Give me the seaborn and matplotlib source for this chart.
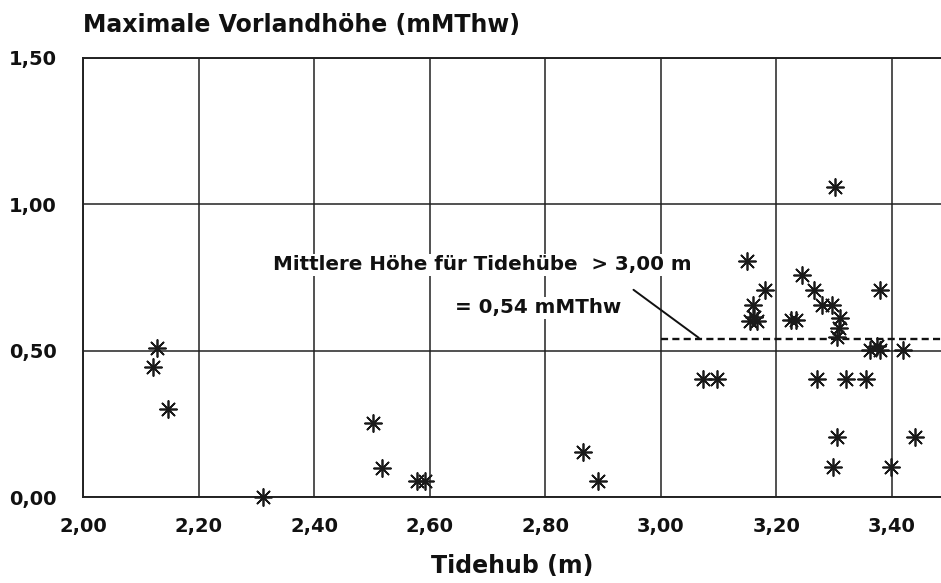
import matplotlib
matplotlib.use("Agg")
import matplotlib.pyplot as plt
import numpy as np
import pandas as pd
import seaborn as sns

# Tidehub (m) und maximale Vorlandhöhe (mMThw)
tidehub = [
    2.128, 2.122, 2.148, 2.311,
    2.502, 2.517, 2.578, 2.592, 2.866, 2.891,
    3.074, 3.097, 3.150, 3.181, 3.160, 3.155, 3.161, 3.166,
    3.225, 3.235, 3.244, 3.265, 3.279, 3.296, 3.311, 3.308, 3.305,
    3.302, 3.380, 3.363, 3.380, 3.420, 3.375,
    3.270, 3.321, 3.355, 3.306, 3.440, 3.299, 3.399,
]
vorlandhoehe = [
    0.508, 0.445, 0.300, 0.000,
    0.252, 0.100, 0.055, 0.055, 0.155, 0.055,
    0.402, 0.402, 0.808, 0.707, 0.656, 0.600, 0.615, 0.600,
    0.605, 0.605, 0.759, 0.707, 0.656, 0.656, 0.611, 0.577, 0.548,
    1.060, 0.707, 0.502, 0.502, 0.502, 0.515,
    0.402, 0.402, 0.402, 0.204, 0.204, 0.104, 0.104,
]
mittel_ab = 3.00
mittel_hoehe = 0.54

x_ticks = [2.0, 2.2, 2.4, 2.6, 2.8, 3.0, 3.2, 3.4]
y_ticks = [0.0, 0.5, 1.0, 1.5]

df = pd.DataFrame({"tidehub": tidehub, "hoehe": vorlandhoehe})

sns.set_theme(style="white")
plt.rcParams["font.family"] = ["DejaVu Sans"]

fig = plt.figure(figsize=(9.41, 5.83), dpi=100)
ax = fig.add_axes([83 / 941, 1 - 497 / 583, 1 - 83 / 941 + 0.001, (497 - 58) / 583])

sns.scatterplot(data=df, x="tidehub", y="hoehe", ax=ax, marker=(8, 2, 0),
                s=150, color="#1a1a1a", linewidth=1.25, zorder=3, clip_on=False)

# Mittelwert für Tidehübe > 3,00 m
ax.plot([mittel_ab, 3.49], [mittel_hoehe, mittel_hoehe], color="#111111",
        linestyle=(0, (3.0, 1.8)), linewidth=1.7, zorder=2)
ax.plot([2.953, 3.066], [0.708, 0.544], color="#111111", linewidth=1.4, zorder=2)
ax.text(2.691, 0.793, "Mittlere Höhe für Tidehübe  > 3,00 m", ha="center", va="center",
        fontsize=14.3, fontweight="bold", color="#111111",
        bbox=dict(facecolor="white", edgecolor="none", pad=1))
ax.text(2.788, 0.646, "= 0,54 mMThw", ha="center", va="center",
        fontsize=14.3, fontweight="bold", color="#111111",
        bbox=dict(facecolor="white", edgecolor="none", pad=1))

ax.set_xlim(2.0, 3.487)
ax.set_ylim(0.0, 1.5)
ax.set_xticks(x_ticks)
ax.set_yticks(y_ticks)
ax.set_xticklabels([f"{v:.2f}".replace(".", ",") for v in x_ticks])
ax.set_yticklabels([f"{v:.2f}".replace(".", ",") for v in y_ticks])
ax.grid(True, color="#222222", linewidth=1.1)
ax.set_axisbelow(True)
for side in ["left", "top", "bottom"]:
    ax.spines[side].set_color("#222222")
    ax.spines[side].set_linewidth(1.4)
ax.spines["right"].set_visible(False)
ax.tick_params(axis="x", direction="out", length=7.5, width=1.3, color="#222222",
               labelsize=14, pad=7)
ax.tick_params(axis="y", direction="out", length=12, width=1.3, color="#222222",
               labelsize=14, pad=7)
for lab in ax.get_xticklabels() + ax.get_yticklabels():
    lab.set_fontweight("bold")
    lab.set_color("#111111")

ax.set_xlabel("Tidehub (m)", fontsize=17, fontweight="bold", color="#111111", labelpad=13)
ax.set_ylabel("")
fig.text(83 / 941, 1 - 25 / 583, "Maximale Vorlandhöhe (mMThw)", ha="left", va="center",
         fontsize=17, fontweight="bold", color="#111111")

fig.savefig("out.png", dpi=100)
